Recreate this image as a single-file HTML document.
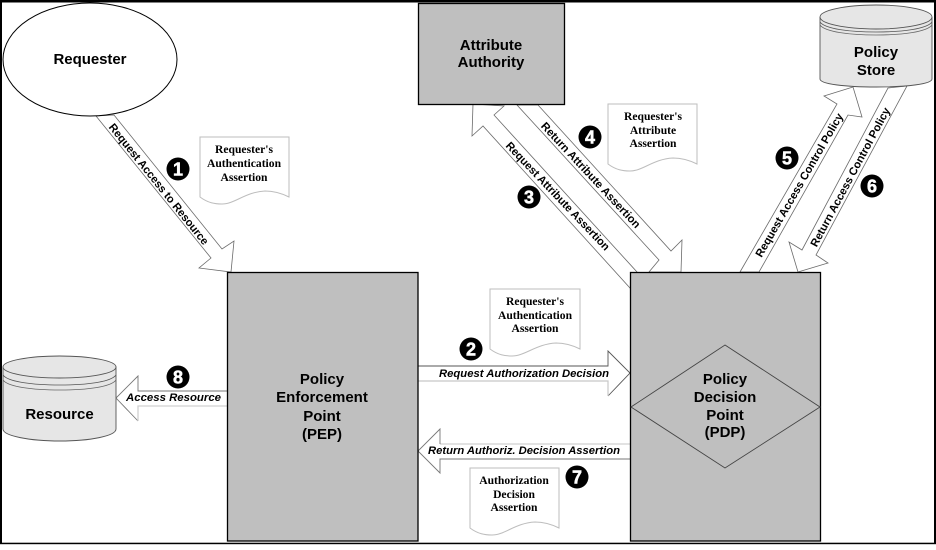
<!DOCTYPE html>
<html>
<head>
<meta charset="utf-8">
<style>
html,body{margin:0;padding:0;background:#fff;width:936px;height:550px;overflow:hidden}
svg{display:block}
text{font-family:"Liberation Sans",Arial,sans-serif;fill:#000}
.big{font-weight:bold;font-size:15px;text-anchor:middle}
.doc{font-family:"Liberation Serif",serif;font-weight:bold;font-size:11.6px;text-anchor:middle}
.lab{font-weight:bold;font-style:italic;font-size:11.4px}
.rot{font-weight:bold;font-size:11.2px;text-anchor:middle}
.num{font-weight:bold;font-size:18px;text-anchor:middle;fill:#fff;stroke:#fff;stroke-width:.5}
.arr{fill:#fff;stroke:#6a6a6a;stroke-width:.8}
.paper{fill:#fff;stroke:#bdbdbd;stroke-width:1}
</style>
</head>
<body>
<svg width="936" height="550" viewBox="0 0 936 550" xmlns="http://www.w3.org/2000/svg">
<rect width="936" height="550" fill="#fff"/>
<!-- frame -->
<rect x="0" y="0" width="936" height="2.5" fill="#000"/>
<rect x="0" y="0" width="2" height="544" fill="#000"/>
<rect x="934" y="0" width="2" height="544" fill="#000"/>
<rect x="0" y="542.7" width="936" height="1.5" fill="#000"/>

<!-- arrows -->
<polygon class="arr" points="96,116 114,115 222,249 234,241 231,272 199,268 211,258"/>
<polygon class="arr" points="494,115 637,272 630,288 483,126 472,136 473,104 504,106"/>
<polygon class="arr" points="517,105 538,105 671,251 682,240 681,272 649,272 659,260"/>
<polygon class="arr" points="740,272 837,104 824,96 853,87 862,117 848,115 759,272"/>
<polygon class="arr" points="888,88 907,86 816,255 828,263 798,272 789,242 802,250"/>

<!-- horizontal arrows -->
<polygon fill="#fff" points="418,366 608,366 608,351 630,373 608,396 608,381 418,381"/>
<path d="M418,366H608V351L630,373L608,396" fill="none" stroke="#555" stroke-width=".9"/>
<path d="M418,381H608V396" fill="none" stroke="#c8c8c8" stroke-width="1.2"/>
<polygon fill="#fff" points="630,444 440,444 440,429 418,451 440,473 440,459 630,459"/>
<path d="M630,444H440" fill="none" stroke="#d8d8d8" stroke-width="1.4"/>
<path d="M440,444V429L418,451L440,473V459H630" fill="none" stroke="#777" stroke-width=".9"/>
<polygon fill="#fff" points="227,391 138,391 138,376 116,398 138,421 138,406 227,406"/>
<path d="M227,391H138V376L116,398L138,421" fill="none" stroke="#777" stroke-width=".9"/>
<path d="M138,421V406H227" fill="none" stroke="#d0d0d0" stroke-width="1.3"/>

<!-- requester -->
<ellipse cx="90" cy="59.5" rx="87" ry="56.5" fill="#fff" stroke="#000" stroke-width="1"/>
<text x="90" y="64" class="big" textLength="73">Requester</text>

<!-- attribute authority -->
<rect x="418.5" y="3.5" width="146" height="101" fill="#bfbfbf" stroke="#000" stroke-width="1.3"/>
<text x="491" y="50" class="big">Attribute</text>
<text x="491" y="67" class="big">Authority</text>

<!-- PEP -->
<rect x="227.5" y="272.5" width="190.5" height="268.5" fill="#bfbfbf" stroke="#000" stroke-width="1.3"/>
<text x="322" y="384" class="big">Policy</text>
<text x="322" y="402" class="big">Enforcement</text>
<text x="322" y="421" class="big">Point</text>
<text x="322" y="439" class="big">(PEP)</text>

<!-- PDP -->
<rect x="630.5" y="272.5" width="190" height="268.5" fill="#bfbfbf" stroke="#000" stroke-width="1.3"/>
<polygon points="725,345 820,407 725,468 631,407" fill="#bfbfbf" stroke="#444" stroke-width=".9"/>
<text x="725" y="384" class="big">Policy</text>
<text x="725" y="402" class="big">Decision</text>
<text x="725" y="420" class="big">Point</text>
<text x="725" y="437" class="big">(PDP)</text>

<!-- policy store -->
<path d="M820,17 V79 C820,84 845,87 876,87 C907,87 932,84 932,79 V17" fill="#e6e6e6" stroke="#555" stroke-width=".9"/>
<ellipse cx="876" cy="17" rx="56" ry="12" fill="#e6e6e6" stroke="#555" stroke-width=".9"/>
<path d="M820,22 C825,29 850,32 876,32 C902,32 927,29 932,22" fill="none" stroke="#555" stroke-width=".8"/>
<path d="M820,25 C825,32 850,35 876,35 C902,35 927,32 932,25" fill="none" stroke="#666" stroke-width=".8"/>
<text x="876" y="57" class="big">Policy</text>
<text x="876" y="75" class="big">Store</text>

<!-- resource -->
<path d="M3,367 V429 C3,436 30,441 60,441 C90,441 116,436 116,429 V367" fill="#e6e6e6" stroke="#555" stroke-width=".9"/>
<ellipse cx="59.500" cy="367" rx="56.500" ry="11" fill="#e6e6e6" stroke="#555" stroke-width=".9"/>
<path d="M3,375 C8,382 33,385 60,385 C87,385 111,382 116,375" fill="none" stroke="#555" stroke-width=".8"/>
<path d="M3,380 C8,387 33,390 60,390 C87,390 111,387 116,380" fill="none" stroke="#666" stroke-width=".8"/>
<text x="59.500" y="419" class="big">Resource</text>

<!-- documents -->
<path class="paper" d="M200,137 h89 v60 c-6,-3 -14,-6 -24,-6 c-20,1 -30,13 -43,13 c-7,0 -14,-1 -22,-7 z"/>
<text x="244" y="153" class="doc">Requester's</text>
<text x="244" y="167" class="doc">Authentication</text>
<text x="244" y="181" class="doc">Assertion</text>

<path class="paper" d="M490,289 h90 v60 c-6,-3 -14,-6 -24,-6 c-20,1 -31,13 -44,13 c-7,0 -14,-1 -22,-7 z"/>
<text x="535" y="305" class="doc">Requester's</text>
<text x="535" y="319" class="doc">Authentication</text>
<text x="535" y="332" class="doc">Assertion</text>

<path class="paper" d="M608,104 h89 v60 c-6,-3 -14,-6 -24,-6 c-20,1 -30,13 -43,13 c-7,0 -14,-1 -22,-7 z"/>
<text x="653" y="120" class="doc">Requester's</text>
<text x="653" y="134" class="doc">Attribute</text>
<text x="653" y="147" class="doc">Assertion</text>

<path class="paper" d="M470,468 h89 v60 c-6,-3 -14,-6 -24,-6 c-20,1 -30,13 -43,13 c-7,0 -14,-1 -22,-7 z"/>
<text x="514" y="484" class="doc">Authorization</text>
<text x="514" y="498" class="doc">Decision</text>
<text x="514" y="511" class="doc">Assertion</text>

<!-- arrow labels -->
<text x="439" y="377" class="lab" textLength="170" lengthAdjust="spacingAndGlyphs">Request Authorization Decision</text>
<text x="428" y="454" class="lab" textLength="192" lengthAdjust="spacingAndGlyphs">Return Authoriz. Decision Assertion</text>
<text x="126" y="401" class="lab" textLength="95" lengthAdjust="spacingAndGlyphs">Access Resource</text>

<g transform="translate(159,184) rotate(51.2)"><text class="rot" y="4" textLength="152" lengthAdjust="spacingAndGlyphs">Request Access to Resource</text></g>
<g transform="translate(591,175) rotate(47)"><text class="rot" y="4" textLength="140" lengthAdjust="spacingAndGlyphs">Return Attribute Assertion</text></g>
<g transform="translate(558,196) rotate(46.4)"><text class="rot" y="4" textLength="145" lengthAdjust="spacingAndGlyphs">Request Attribute Assertion</text></g>
<g transform="translate(799,185) rotate(-60)"><text class="rot" y="4" textLength="164" lengthAdjust="spacingAndGlyphs">Request Access Control Policy</text></g>
<g transform="translate(850,177) rotate(-61.8)"><text class="rot" y="4" textLength="156" lengthAdjust="spacingAndGlyphs">Return Access Control Policy</text></g>

<!-- badges -->
<circle cx="178" cy="169" r="11.500" fill="#000"/><text x="178" y="175.500" class="num">1</text>
<circle cx="471" cy="349" r="11.500" fill="#000"/><text x="471" y="355.500" class="num">2</text>
<circle cx="529" cy="197" r="11.500" fill="#000"/><text x="529" y="203.500" class="num">3</text>
<circle cx="590" cy="137" r="11.500" fill="#000"/><text x="590" y="143.500" class="num">4</text>
<circle cx="787" cy="158" r="11.500" fill="#000"/><text x="787" y="164.500" class="num">5</text>
<circle cx="872" cy="186" r="11.500" fill="#000"/><text x="872" y="192.500" class="num">6</text>
<circle cx="577" cy="477" r="11.500" fill="#000"/><text x="577" y="483.500" class="num">7</text>
<circle cx="178" cy="377" r="11.500" fill="#000"/><text x="178" y="383.500" class="num">8</text>
</svg>
</body>
</html>
